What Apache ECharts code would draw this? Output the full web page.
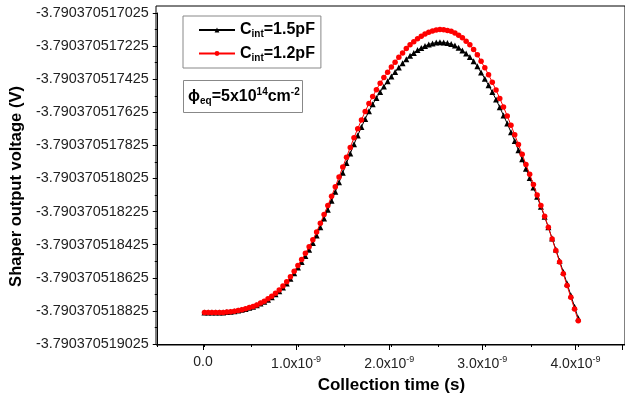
<!DOCTYPE html>
<html><head><meta charset="utf-8">
<script src="https://cdn.jsdelivr.net/npm/echarts@6/dist/echarts.min.js"></script>
<style>html,body{margin:0;padding:0;background:#fff}#c{width:625px;height:399px}</style>
</head><body><div id="c"></div>
<script>
// Collection time in ns (axis labels show x10^-9 s)
const timeNs = [0,0.04,0.08,0.12,0.16,0.2,0.24,0.28,0.32,0.36,0.4,0.44,0.48,0.52,0.56,0.6,0.64,0.68,0.72,0.76,0.8,0.84,0.88,0.92,0.96,1,1.04,1.08,1.12,1.16,1.2,1.24,1.28,1.32,1.36,1.4,1.44,1.48,1.52,1.56,1.6,1.64,1.68,1.72,1.76,1.8,1.84,1.88,1.92,1.96,2,2.04,2.08,2.12,2.16,2.2,2.24,2.28,2.32,2.36,2.4,2.44,2.48,2.52,2.56,2.6,2.64,2.68,2.72,2.76,2.8,2.84,2.88,2.92,2.96,3,3.04,3.08,3.12,3.16,3.2,3.24,3.28,3.32,3.36,3.4,3.44,3.48,3.52,3.56,3.6,3.64,3.68,3.72,3.76,3.8,3.84,3.88,3.92,3.96,4];

// Shaper output voltage (V), Cint = 1.5 pF
const vCint15 = [-3.790370518834,-3.790370518834,-3.790370518834,-3.790370518834,-3.790370518834,-3.790370518834,-3.790370518832,-3.790370518830,-3.790370518827,-3.790370518823,-3.790370518818,-3.790370518813,-3.790370518806,-3.790370518800,-3.790370518791,-3.790370518781,-3.790370518770,-3.790370518757,-3.790370518742,-3.790370518725,-3.790370518706,-3.790370518683,-3.790370518659,-3.790370518630,-3.790370518598,-3.790370518563,-3.790370518529,-3.790370518493,-3.790370518455,-3.790370518414,-3.790370518369,-3.790370518319,-3.790370518267,-3.790370518214,-3.790370518160,-3.790370518105,-3.790370518048,-3.790370517990,-3.790370517932,-3.790370517874,-3.790370517818,-3.790370517765,-3.790370517714,-3.790370517665,-3.790370517618,-3.790370517577,-3.790370517538,-3.790370517502,-3.790370517469,-3.790370517438,-3.790370517409,-3.790370517381,-3.790370517354,-3.790370517329,-3.790370517304,-3.790370517283,-3.790370517266,-3.790370517249,-3.790370517236,-3.790370517224,-3.790370517215,-3.790370517209,-3.790370517204,-3.790370517201,-3.790370517203,-3.790370517207,-3.790370517213,-3.790370517222,-3.790370517235,-3.790370517251,-3.790370517270,-3.790370517291,-3.790370517317,-3.790370517347,-3.790370517385,-3.790370517422,-3.790370517461,-3.790370517503,-3.790370517548,-3.790370517595,-3.790370517644,-3.790370517693,-3.790370517745,-3.790370517799,-3.790370517854,-3.790370517909,-3.790370517966,-3.790370518022,-3.790370518079,-3.790370518136,-3.790370518195,-3.790370518256,-3.790370518320,-3.790370518387,-3.790370518454,-3.790370518522,-3.790370518590,-3.790370518660,-3.790370518730,-3.790370518800,-3.790370518870];

// Shaper output voltage (V), Cint = 1.2 pF
const vCint12 = [-3.790370518834,-3.790370518834,-3.790370518834,-3.790370518834,-3.790370518834,-3.790370518834,-3.790370518832,-3.790370518830,-3.790370518827,-3.790370518823,-3.790370518818,-3.790370518812,-3.790370518805,-3.790370518798,-3.790370518789,-3.790370518778,-3.790370518766,-3.790370518752,-3.790370518737,-3.790370518719,-3.790370518699,-3.790370518675,-3.790370518649,-3.790370518619,-3.790370518586,-3.790370518550,-3.790370518514,-3.790370518477,-3.790370518437,-3.790370518395,-3.790370518348,-3.790370518296,-3.790370518242,-3.790370518188,-3.790370518132,-3.790370518075,-3.790370518016,-3.790370517956,-3.790370517896,-3.790370517837,-3.790370517779,-3.790370517724,-3.790370517671,-3.790370517620,-3.790370517572,-3.790370517529,-3.790370517488,-3.790370517450,-3.790370517415,-3.790370517383,-3.790370517352,-3.790370517322,-3.790370517293,-3.790370517266,-3.790370517240,-3.790370517217,-3.790370517198,-3.790370517180,-3.790370517165,-3.790370517152,-3.790370517142,-3.790370517134,-3.790370517128,-3.790370517125,-3.790370517126,-3.790370517130,-3.790370517136,-3.790370517146,-3.790370517159,-3.790370517175,-3.790370517195,-3.790370517217,-3.790370517245,-3.790370517277,-3.790370517317,-3.790370517356,-3.790370517398,-3.790370517443,-3.790370517491,-3.790370517541,-3.790370517593,-3.790370517647,-3.790370517703,-3.790370517761,-3.790370517820,-3.790370517879,-3.790370517940,-3.790370518000,-3.790370518062,-3.790370518124,-3.790370518188,-3.790370518253,-3.790370518320,-3.790370518390,-3.790370518460,-3.790370518530,-3.790370518601,-3.790370518672,-3.790370518743,-3.790370518814,-3.790370518884];

const seriesNames = ['Cint=1.5pF', 'Cint=1.2pF'];
const seriesColors = ['#000000', '#ff0000'];
const legendLabels = ['C{sub|int}=1.5pF', 'C{sub|int}=1.2pF'];

// y tick labels, bottom to top (step 2e-10 V)
const yTickLabels = ['-3.790370519025','-3.790370518825','-3.790370518625','-3.790370518425','-3.790370518225','-3.790370518025','-3.790370517825','-3.790370517625','-3.790370517425','-3.790370517225','-3.790370517025'];
// x tick labels at 0,1,2,3,4 ns
const xTickLabels = ['0.0','1.0x10{sup|-9}','2.0x10{sup|-9}','3.0x10{sup|-9}','4.0x10{sup|-9}'];

const V_BASE = -3.790370519025;   // bottom of y axis
const Y_UNIT = 1e-12;             // plot y in pV above V_BASE
const toPlot = v => Math.round((v - V_BASE) / Y_UNIT * 1000) / 1000;

const FONT = 'Liberation Sans, Arial, sans-serif';
const chart = echarts.init(document.getElementById('c'), null, {renderer: 'canvas'});

const mk = (vals) => timeNs.map((t, i) => [t, toPlot(vals[i])]);

chart.setOption({
  animation: false,
  backgroundColor: '#fff',
  textStyle: {fontFamily: FONT},
  grid: [
    {left: 156, top: 6, width: 476, height: 339, show: true, borderColor: '#000', borderWidth: 1, backgroundColor: 'transparent'},
    {left: 156, top: 13, width: 470, height: 332},
    {left: 203, top: 13, width: 423, height: 332}
  ],
  xAxis: [
    {gridIndex: 0, type: 'value', min: 0, max: 1, show: false},
    {gridIndex: 1, type: 'value', min: -0.5, max: 4.5, interval: 0.5,
     axisLine: {show: true, onZero: false, lineStyle: {color: '#000', width: 1}},
     axisTick: {show: true, length: 3, lineStyle: {color: '#000'}},
     axisLabel: {show: false}, splitLine: {show: false},
     name: 'Collection time (s)', nameLocation: 'middle', nameGap: 33,
     nameTextStyle: {fontFamily: FONT, fontSize: 17, fontWeight: 'bold', color: '#000'}},
    {gridIndex: 2, type: 'value', min: 0, max: 4.5, interval: 1,
     axisLine: {show: false}, splitLine: {show: false},
     axisTick: {show: true, length: 5, lineStyle: {color: '#000'}},
     axisLabel: {show: true, margin: 10, fontFamily: FONT, fontSize: 14, color: '#222',
       formatter: v => { const i = Math.round(v); return (Math.abs(v - i) < 1e-9 && i >= 0 && i < xTickLabels.length) ? xTickLabels[i] : ''; },
       rich: {sup: {fontFamily: FONT, fontSize: 9, color: '#222', padding: [0, 0, 9, 0]}}}}
  ],
  yAxis: [
    {gridIndex: 0, type: 'value', min: 0, max: 1, show: false},
    {gridIndex: 1, type: 'value', min: 0, max: 2000, interval: 200,
     axisLine: {show: true, onZero: false, lineStyle: {color: '#000', width: 1}},
     axisTick: {show: true, length: 5, lineStyle: {color: '#000'}},
     minorTick: {show: true, splitNumber: 2, length: 3, lineStyle: {color: '#000'}},
     splitLine: {show: false},
     axisLabel: {margin: 9, fontFamily: FONT, fontSize: 14.4, color: '#222',
       formatter: v => { const i = Math.round(v / 200); return (Math.abs(v - i * 200) < 1e-6 && i >= 0 && i < yTickLabels.length) ? yTickLabels[i] : ''; }},
     name: 'Shaper output voltage (V)', nameLocation: 'middle', nameGap: 128,
     nameTextStyle: {fontFamily: FONT, fontSize: 16.5, fontWeight: 'bold', color: '#000', padding: [0, 16, 0, 0]}},
    {gridIndex: 2, type: 'value', min: 0, max: 2000, show: false}
  ],
  legend: {
    show: true, orient: 'vertical', left: 183, top: 16,
    data: seriesNames,
    itemWidth: 36, itemHeight: 6, itemGap: 6,
    padding: [6, 6, 5, 15],
    borderColor: '#888', borderWidth: 1, backgroundColor: '#fff',
    formatter: name => legendLabels[seriesNames.indexOf(name)],
    textStyle: {fontFamily: FONT, fontSize: 16, fontWeight: 'bold', color: '#000',
      rich: {sub: {fontFamily: FONT, fontSize: 10, fontWeight: 'bold', color: '#000', padding: [9, 0, 0, 0]}}}
  },
  title: {
    show: true, left: 183, top: 80,
    text: '{a|\u03d5}{sub|eq}{a|=5x10}{sup|14}{a|cm}{sup|-2}',
    padding: [7, 3, 7, 5],
    borderColor: '#888', borderWidth: 1, backgroundColor: '#fff',
    textStyle: {fontFamily: FONT, fontSize: 16, fontWeight: 'bold', color: '#000',
      rich: {
        a: {fontFamily: FONT, fontSize: 16, fontWeight: 'bold', color: '#000'},
        sub: {fontFamily: FONT, fontSize: 10, fontWeight: 'bold', color: '#000', padding: [9, 0, 0, 0]},
        sup: {fontFamily: FONT, fontSize: 10, fontWeight: 'bold', color: '#000', padding: [0, 0, 9, 0]}
      }}
  },
  series: [
    {name: seriesNames[0], type: 'line', xAxisIndex: 1, yAxisIndex: 1, data: mk(vCint15),
     symbol: 'triangle', symbolSize: 6, showSymbol: true,
     itemStyle: {color: seriesColors[0]}, lineStyle: {color: seriesColors[0], width: 1}, z: 2},
    {name: seriesNames[1], type: 'line', xAxisIndex: 1, yAxisIndex: 1, data: mk(vCint12),
     symbol: 'circle', symbolSize: 5.5, showSymbol: true,
     itemStyle: {color: seriesColors[1]}, lineStyle: {color: seriesColors[1], width: 1}, z: 3}
  ]
});
</script></body></html>
